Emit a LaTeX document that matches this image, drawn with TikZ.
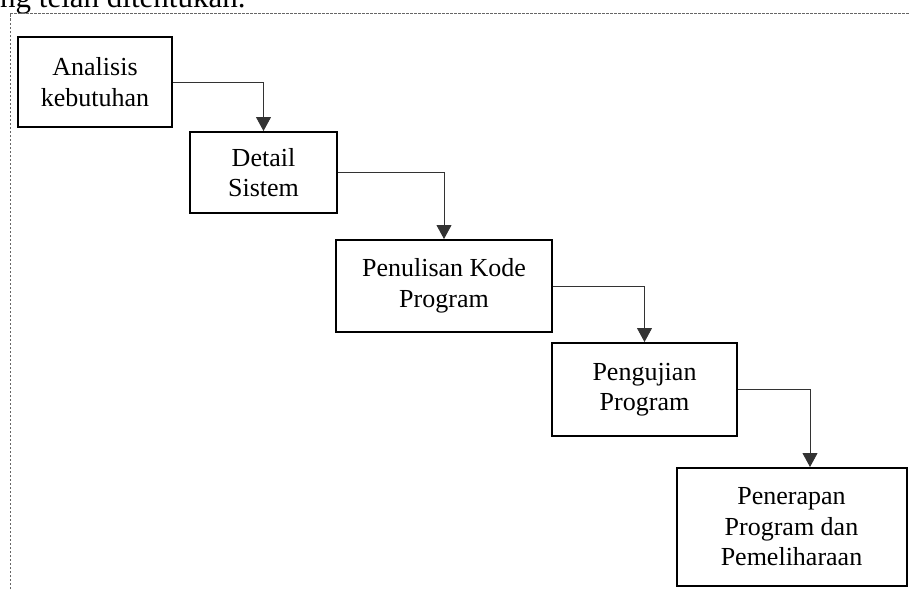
\documentclass[tikz,border=0pt]{standalone}
\usepackage{fontspec}
\setmainfont{Liberation Serif}
\usetikzlibrary{arrows.meta}
\tikzset{
  stagebox/.style={draw=black, line width=2pt, align=center, inner sep=0pt,
    font=\fontsize{26}{30.5}\selectfont},
  conn/.style={draw=black!80, line width=0.9pt, -{Triangle[length=14pt,width=15pt]}},
  frameline/.style={draw=black!60, line width=1pt, dash pattern=on 2.5pt off 1.5pt}
}
\begin{document}
\begin{tikzpicture}[x=1pt,y=-1pt]
\useasboundingbox (0,0) rectangle (909,589);
\node[anchor=base west, inner sep=0pt, font=\fontsize{31}{36}\selectfont] (toptext) at (0,7.3) {ng telah ditentukan.};
\coordinate (fa) at (10,589);
\coordinate (fb) at (10,13);
\coordinate (fc) at (909,13);
\draw[frameline] (fa) -- (fb) -- (fc);
\node[stagebox, minimum width=154pt, minimum height=90pt] (b1) at (95,82) {Analisis\\kebutuhan};
\node[stagebox, minimum width=147pt, minimum height=81pt] (b2) at (263.5,172.5) {Detail\\Sistem};
\node[stagebox, minimum width=216pt, minimum height=92pt] (b3) at (444,286) {Penulisan Kode\\Program};
\node[stagebox, minimum width=185pt, minimum height=93pt] (b4) at (644.5,389.5) {Pengujian\\Program};
\node[stagebox, minimum width=230pt, minimum height=118pt] (b5) at (791.5,527) {Penerapan\\Program dan\\Pemeliharaan};
\draw[conn] (b1.east) -| (b2.north);
\draw[conn] (b2.east) -| (b3.north);
\draw[conn] (b3.east) -| (b4.north);
\draw[conn] (b4.east) -| ([xshift=18.5pt]b5.north);
\end{tikzpicture}
\end{document}
